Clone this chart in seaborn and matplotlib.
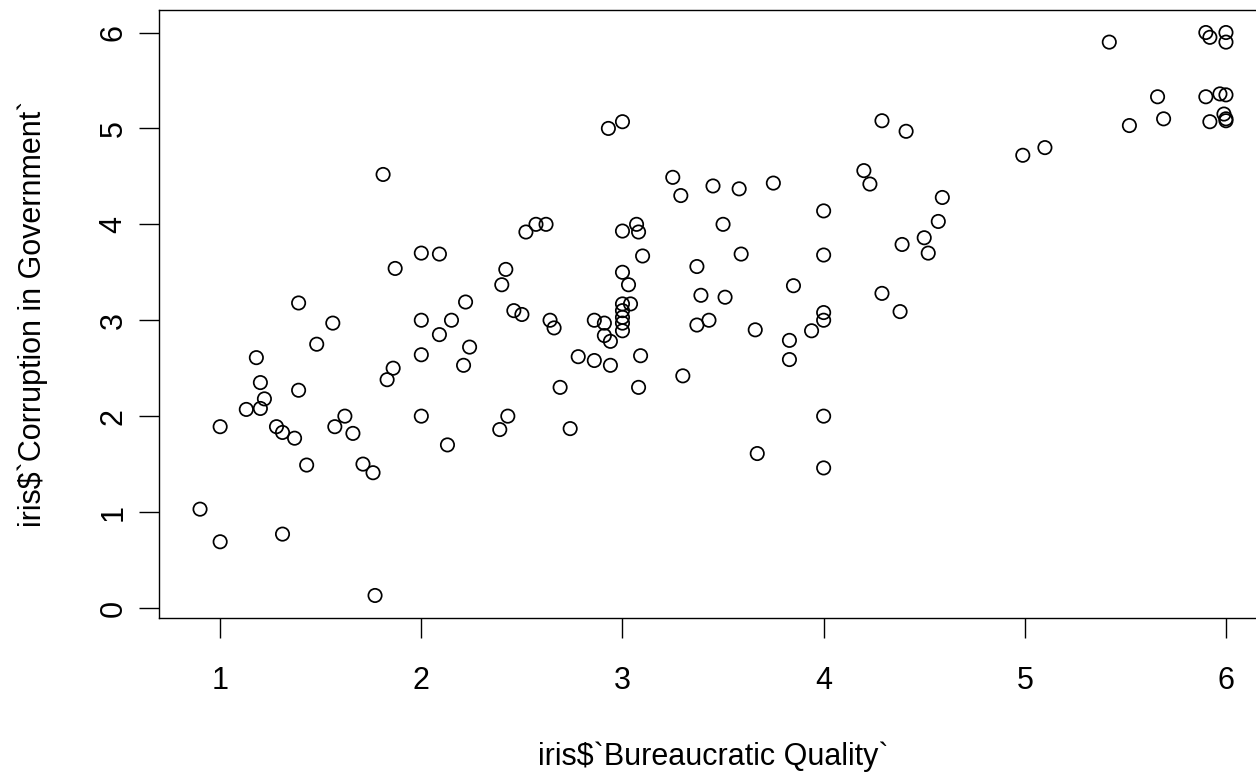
import numpy as np
import pandas as pd
import matplotlib
matplotlib.use("Agg")
import matplotlib.pyplot as plt
import seaborn as sns

# Bureaucratic quality score per country
bureaucratic_quality = [
    0.90, 1.00, 1.00, 1.13, 1.18, 1.20, 1.20, 1.22, 1.28, 1.31,
    1.31, 1.37, 1.39, 1.39, 1.43, 1.48, 1.56, 1.57, 1.62, 1.66,
    1.71, 1.76, 1.77, 1.81, 1.83, 1.86, 1.87,
    2.00, 2.00, 2.00, 2.00, 2.09, 2.09, 2.13, 2.15, 2.21, 2.22,
    2.24, 2.39, 2.40, 2.42, 2.43, 2.46, 2.50, 2.52, 2.57, 2.62,
    2.64, 2.66, 2.69, 2.74, 2.78, 2.86, 2.86, 2.91, 2.91, 2.93,
    2.94, 2.94,
    3.00, 3.00, 3.00, 3.00, 3.00, 3.00, 3.00, 3.00, 3.03, 3.04,
    3.07, 3.08, 3.08, 3.09, 3.10, 3.25, 3.29, 3.30, 3.37, 3.37,
    3.39, 3.43, 3.45, 3.50, 3.51, 3.58, 3.59, 3.66, 3.67, 3.75,
    3.83, 3.83, 3.85, 3.94,
    4.00, 4.00, 4.00, 4.00, 4.00, 4.00, 4.20, 4.23, 4.29, 4.29,
    4.38, 4.39, 4.41, 4.50, 4.52, 4.57, 4.59, 4.99, 5.10, 5.42,
    5.52, 5.66, 5.69, 5.90, 5.92, 5.90, 5.92, 5.97, 6.00, 5.99,
    6.00, 6.00, 6.00, 6.00,
]

# Corruption-in-government score per country (same order)
corruption = [
    1.03, 0.69, 1.89, 2.07, 2.61, 2.35, 2.08, 2.18, 1.89, 1.83,
    0.77, 1.77, 3.18, 2.27, 1.49, 2.75, 2.97, 1.89, 2.00, 1.82,
    1.50, 1.41, 0.13, 4.52, 2.38, 2.50, 3.54,
    3.70, 3.00, 2.64, 2.00, 3.69, 2.85, 1.70, 3.00, 2.53, 3.19,
    2.72, 1.86, 3.37, 3.53, 2.00, 3.10, 3.06, 3.92, 4.00, 4.00,
    3.00, 2.92, 2.30, 1.87, 2.62, 2.58, 3.00, 2.97, 2.84, 5.00,
    2.78, 2.53,
    5.07, 3.93, 3.50, 3.17, 3.10, 3.03, 2.97, 2.89, 3.37, 3.17,
    4.00, 3.92, 2.30, 2.63, 3.67, 4.49, 4.30, 2.42, 3.56, 2.95,
    3.26, 3.00, 4.40, 4.00, 3.24, 4.37, 3.69, 2.90, 1.61, 4.43,
    2.79, 2.59, 3.36, 2.89,
    4.14, 3.68, 3.08, 3.00, 2.00, 1.46, 4.56, 4.42, 5.08, 3.28,
    3.09, 3.79, 4.97, 3.86, 3.70, 4.03, 4.28, 4.72, 4.80, 5.90,
    5.03, 5.33, 5.10, 6.00, 5.95, 5.33, 5.07, 5.36, 5.35, 5.15,
    5.08, 5.10, 6.00, 5.90,
]

x_ticks = [1, 2, 3, 4, 5, 6]
y_ticks = [0, 1, 2, 3, 4, 5, 6]
x_label = "iris$`Bureaucratic Quality`"
y_label = "iris$`Corruption in Government`"

df = pd.DataFrame({"bq": bureaucratic_quality, "cg": corruption})

sns.set_theme(style="ticks")
plt.rcParams["font.family"] = ["Liberation Sans", "DejaVu Sans"]

W, H = 1256, 772
fig = plt.figure(figsize=(W / 100, H / 100), dpi=100)
fig.patch.set_facecolor("white")

# plot region in pixels: left edge, bottom edge, width, height
left_px, top_px, bottom_px, width_px = 159, 10, 618, 1108
ax = fig.add_axes([left_px / W, (H - bottom_px) / H, width_px / W, (bottom_px - top_px) / H])
ax.set_facecolor("white")

sns.scatterplot(data=df, x="bq", y="cg", ax=ax, s=92, marker="o", linewidth=1.25, legend=False)
pts = ax.collections[0]
pts.set_facecolor("none")
pts.set_edgecolor("black")
pts.set_linewidth(1.25)

# axis ranges padded by 4% of the data span on each side
def padded(v):
    lo, hi = min(v), max(v)
    r = hi - lo
    return lo - 0.04 * r, hi + 0.04 * r

ax.set_xlim(*padded(bureaucratic_quality))
ax.set_ylim(*padded(corruption))

ax.set_xticks(x_ticks)
ax.set_yticks(y_ticks)
ax.set_xticklabels([str(t) for t in x_ticks])
ax.set_yticklabels([str(t) for t in y_ticks], rotation=90, va="center")

for sp in ax.spines.values():
    sp.set_visible(True)
    sp.set_color("black")
    sp.set_linewidth(1.0)

ax.tick_params(axis="both", direction="out", length=14.5, width=1.0, color="black",
               labelsize=22, labelcolor="black")
ax.tick_params(axis="x", pad=20)
ax.tick_params(axis="y", pad=7.5)

ax.set_xlabel(x_label, fontsize=22, color="black", labelpad=33)
ax.set_ylabel(y_label, fontsize=22, color="black", labelpad=36)

fig.savefig("out.png", dpi=100, facecolor="white")
